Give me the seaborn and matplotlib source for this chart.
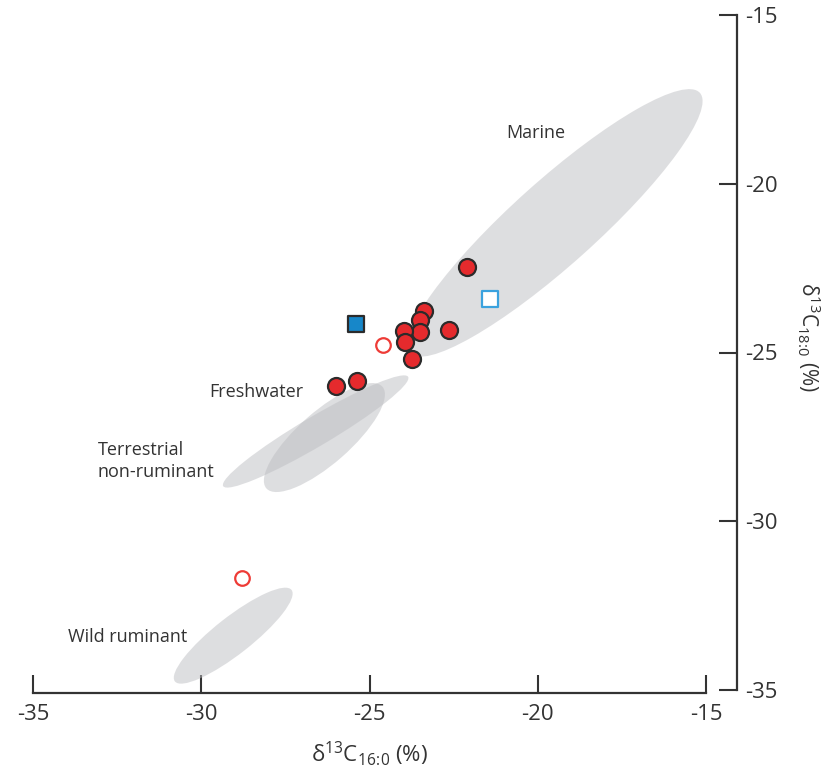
import matplotlib

matplotlib.use("Agg")
import matplotlib.pyplot as plt
import pandas as pd
import seaborn as sns
from matplotlib.patches import Ellipse

# measured points
filled_x = [-22.10, -23.39, -23.50, -23.50, -23.97, -23.95, -22.63, -23.75, -25.36, -26.00]
filled_y = [-22.47, -23.76, -24.04, -24.38, -24.36, -24.68, -24.32, -25.20, -25.84, -25.98]
open_circle_x = [-24.59, -28.79]
open_circle_y = [-24.79, -31.68]
filled_square_x = [-25.40]
filled_square_y = [-24.17]
open_square_x = [-21.42]
open_square_y = [-23.41]

# reference ranges (ellipses)
region_names = ["Marine", "Freshwater", "Terrestrial\nnon-ruminant", "Wild ruminant"]
region_cx = [-19.49, -26.34, -26.60, -29.05]
region_cy = [-21.16, -27.52, -27.34, -33.39]
region_length = [11.56, 4.58, 6.38, 4.40]
region_width = [2.5, 1.55, 0.88, 1.1]
region_angle = [41.8, 41.1, 30.5, 38.0]

x_ticks = [-35, -30, -25, -20, -15]
y_ticks = [-35, -30, -25, -20, -15]

sns.set_style("white")
plt.rcParams.update(
    {
        "font.family": ["Open Sans", "DejaVu Sans"],
        "axes.unicode_minus": False,
        "mathtext.default": "regular",
        "text.color": "#333333",
        "axes.labelcolor": "#333333",
        "xtick.color": "#333333",
        "ytick.color": "#333333",
    }
)

fig = plt.figure(figsize=(8.27, 7.7), dpi=100)
ax = fig.add_axes([33 / 827, 1 - 690 / 770, 673 / 827, 675 / 770])

for cx, cy, length, width, angle in zip(region_cx, region_cy, region_length, region_width, region_angle):
    ax.add_patch(
        Ellipse((cx, cy), length, width, angle=angle, facecolor="#bdbec2", alpha=0.5, edgecolor="none", zorder=1)
    )

pts = pd.DataFrame({"x": filled_x, "y": filled_y})
sns.scatterplot(data=pts, x="x", y="y", s=150, color="#e52a2d", edgecolor="#2b2b2b", linewidth=1.6, zorder=3, ax=ax)
pts = pd.DataFrame({"x": open_circle_x, "y": open_circle_y})
sns.scatterplot(data=pts, x="x", y="y", s=110, facecolor="white", edgecolor="#ee3b36", linewidth=1.6, zorder=3, ax=ax)
pts = pd.DataFrame({"x": filled_square_x, "y": filled_square_y})
sns.scatterplot(
    data=pts, x="x", y="y", marker="s", s=120, color="#1787c9", edgecolor="#2b2b2b", linewidth=1.6, zorder=3, ax=ax
)
pts = pd.DataFrame({"x": open_square_x, "y": open_square_y})
sns.scatterplot(
    data=pts, x="x", y="y", marker="s", s=125, facecolor="white", edgecolor="#3aa2de", linewidth=1.6, zorder=3, ax=ax
)

label_pos = {
    "Marine": (-20.05, -18.50, "center"),
    "Freshwater": (-28.37, -26.17, "center"),
    "Terrestrial\nnon-ruminant": (-33.08, -28.21, "left"),
    "Wild ruminant": (-32.18, -33.43, "center"),
}
for name in region_names:
    lx, ly, ha = label_pos[name]
    ax.text(lx, ly, name, ha=ha, va="center", fontsize=13, color="#333333", linespacing=1.25, zorder=4)

ax.set_xlim(-35, -15)
ax.set_ylim(-35, -15)
ax.set_xticks(x_ticks)
ax.set_yticks(y_ticks)
ax.set_xticklabels([str(v) for v in x_ticks])
ax.set_yticklabels([str(v) for v in y_ticks])

ax.yaxis.tick_right()
ax.yaxis.set_label_position("right")
for side in ["top", "left"]:
    ax.spines[side].set_visible(False)
for side in ["bottom", "right"]:
    ax.spines[side].set_color("#333333")
    ax.spines[side].set_linewidth(1.6)
ax.spines["right"].set_position(("outward", 22))
ax.spines["bottom"].set_position(("outward", 2))

ax.tick_params(axis="both", direction="in", length=13, width=1.5, labelsize=16)
ax.tick_params(axis="x", bottom=True, top=False, pad=8)
ax.tick_params(axis="y", right=True, left=False, pad=6)

ax.set_xlabel(r"δ$^{13}$C$_{16\!:\!0}$ (%)", fontsize=16, labelpad=10)
ax.set_ylabel(r"δ$^{13}$C$_{18\!:\!0}$ (%)", fontsize=15, rotation=270)
ax.yaxis.label.set_verticalalignment("center")
ax.yaxis.set_label_coords(1.153, 0.523)
ax.set_facecolor("none")

fig.savefig("out.png", dpi=100, facecolor="white")
